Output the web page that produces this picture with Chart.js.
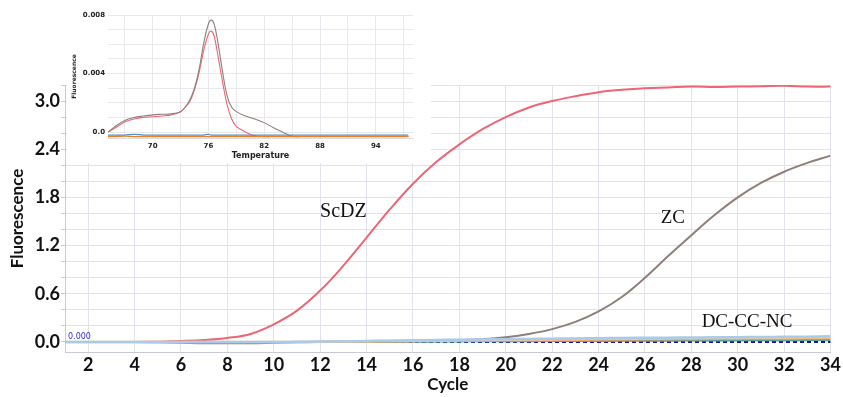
<!DOCTYPE html>
<html>
<head>
<meta charset="utf-8">
<script src="https://cdn.jsdelivr.net/npm/chart.js@4.4.0/dist/chart.umd.min.js"></script>
<style>
    body { margin: 0; background: #ffffff; }
    #wrap { position: relative; width: 843px; height: 397px; }
    #main { position: absolute; left: 0; top: 0; }
    #inset-box {
        position: absolute;
        left: 67px;
        top: 0px;
        width: 364px;
        height: 163px;
        background: #ffffff;
    }
</style>
</head>
<body>
<div id="wrap">
    <canvas id="main" width="843" height="397"></canvas>
    <div id="inset-box">
        <canvas id="inset" width="364" height="163"></canvas>
    </div>
</div>
<script>
// amplification plot (main)
const cycles = [1, 2, 3, 4, 5, 6, 7, 8, 9, 10, 11, 12, 13, 14, 15, 16, 17,
    18, 19, 20, 21, 22, 23, 24, 25, 26, 27, 28, 29, 30, 31, 32, 33, 34];
const scdz = [0, 0, 0, 0, 0.004, 0.012, 0.025, 0.05, 0.1, 0.22, 0.39, 0.64, 0.95, 1.3,
    1.65, 1.97, 2.24, 2.46, 2.65, 2.8, 2.92, 3.0, 3.06, 3.11, 3.14, 3.16, 3.17,
    3.18, 3.175, 3.18, 3.185, 3.19, 3.18, 3.18];
const zc = [0, 0, 0, 0, -0.005, -0.01, -0.015, -0.015, -0.015, -0.01, -0.005, 0, 0,
    0, 0.002, 0.005, 0.01, 0.02, 0.035, 0.06, 0.1, 0.16, 0.25, 0.38, 0.56, 0.8,
    1.07, 1.33, 1.58, 1.8, 1.98, 2.12, 2.23, 2.32];
const ncBlue = [0, 0, 0, 0, 0, 0, 0, 0, 0, 0, 0.002, 0.005, 0.008, 0.012, 0.016, 0.02,
    0.024, 0.028, 0.032, 0.035, 0.038, 0.041, 0.044, 0.047, 0.05, 0.052, 0.054,
    0.056, 0.058, 0.06, 0.062, 0.064, 0.066, 0.07];
const ncPeach = [0, 0, 0, 0, 0, 0, 0, 0, 0, 0, 0.001, 0.003, 0.006, 0.009, 0.012, 0.015,
    0.018, 0.021, 0.024, 0.027, 0.03, 0.032, 0.035, 0.037, 0.04, 0.042, 0.044,
    0.046, 0.048, 0.05, 0.052, 0.054, 0.055, 0.057];
const ncOrange = [0, 0, 0, 0, 0, 0, 0, 0, 0, 0, 0, 0.002, 0.004, 0.006, 0.008, 0.01,
    0.012, 0.014, 0.016, 0.018, 0.02, 0.022, 0.024, 0.026, 0.028, 0.03, 0.032,
    0.034, 0.036, 0.038, 0.04, 0.041, 0.043, 0.045];
const ncTeal = [0, 0, 0, 0, 0, 0, 0, 0, 0, 0, 0, 0, 0.002, 0.003, 0.004, 0.005,
    0.006, 0.007, 0.008, 0.009, 0.01, 0.011, 0.012, 0.013, 0.014, 0.015, 0.016,
    0.018, 0.019, 0.02, 0.021, 0.022, 0.023, 0.025];
const threshold = 0.0;
const xTickValues = [2, 4, 6, 8, 10, 12, 14, 16, 18, 20, 22, 24, 26, 28, 30, 32, 34];
const yGridValues = [0, 0.2, 0.4, 0.6, 0.8, 1.0, 1.2, 1.4, 1.6, 1.8, 2.0, 2.2, 2.4,
    2.6, 2.8, 3.0, 3.2];
const yLabelValues = [0, 0.6, 1.2, 1.8, 2.4, 3.0];

// curve names written on the plot
const curveNames = ["ScDZ", "ZC", "DC-CC-NC"];
const curveNameCycles = [13.0, 27.2, 30.4];
const curveNameValues = [1.62, 1.54, 0.25];

// melt curve (inset)
const temps = [65.2, 66, 67, 68, 69, 70, 71, 72, 73, 73.5, 74, 74.5, 75, 75.5, 76,
    76.3, 76.6, 77, 77.5, 78, 78.5, 79, 80, 81, 82, 83, 84, 85, 86, 88, 90, 92,
    94, 96, 97.5];
const meltZc = [0.0, 0.0004, 0.0008, 0.001, 0.0011, 0.00118, 0.00122, 0.00125,
    0.0014, 0.0017, 0.0022, 0.003, 0.0043, 0.0061, 0.0074, 0.00765, 0.0074,
    0.0062, 0.0042, 0.0025, 0.0017, 0.0014, 0.0011, 0.0009, 0.00065, 0.0003,
    0.0, -0.00028, -0.0003, -0.0003, -0.0003, -0.0003, -0.0003, -0.0003, -0.0003];
const meltScdz = [0.0, 0.0003, 0.0007, 0.0009, 0.001, 0.00105, 0.0011, 0.00118,
    0.0014, 0.0017, 0.0021, 0.0029, 0.0041, 0.0056, 0.0067, 0.0069, 0.0066,
    0.0053, 0.0035, 0.0019, 0.0009, 0.0004, 0.0, -0.00025, -0.0003, -0.0003,
    -0.0003, -0.0003, -0.0003, -0.0003, -0.0003, -0.0003, -0.0003, -0.0003, -0.0003];
const meltBlue = [-0.0002, -0.0002, -0.0002, -0.00015, -0.0002, -0.0002, -0.0002,
    -0.0002, -0.0002, -0.0002, -0.0002, -0.0002, -0.0002, -0.0002, -0.00015,
    -0.0002, -0.0002, -0.0002, -0.0002, -0.0002, -0.0002, -0.0002, -0.0002,
    -0.0002, -0.0002, -0.0002, -0.0002, -0.0002, -0.0002, -0.0002, -0.0002,
    -0.0002, -0.0002, -0.0002, -0.0002];
const meltOrange = [-0.0003, -0.0003, -0.00028, -0.0003, -0.0003, -0.0003, -0.0003,
    -0.0003, -0.0003, -0.0003, -0.0003, -0.0003, -0.0003, -0.0003, -0.0003,
    -0.0003, -0.0003, -0.0003, -0.0003, -0.0003, -0.0003, -0.0003, -0.0003,
    -0.0003, -0.0003, -0.0003, -0.0003, -0.0003, -0.0003, -0.0003, -0.0003,
    -0.0003, -0.0003, -0.0003, -0.0003];
const insetXTickValues = [67, 70, 73, 76, 79, 82, 85, 88, 91, 94, 97];
const insetXLabelValues = [70, 76, 82, 88, 94];
const insetYGridValues = [0, 0.001, 0.002, 0.003, 0.004, 0.005, 0.006, 0.007, 0.008];
const insetYLabels = { 0: "0.0", 0.004: "0.004", 0.008: "0.008" };

const RED = "#ec6675";
const GREY = "#8f7f78";
const GRID = "#e2e2ea";
const AXIS = "#c9c9d2";

function pairs(xs, ys) {
    return xs.map((x, i) => ({ x: x, y: ys[i] }));
}

function line(label, xs, ys, color, width, extra) {
    return Object.assign({
        label: label,
        data: pairs(xs, ys),
        borderColor: color,
        backgroundColor: color,
        borderWidth: width,
        pointRadius: 0,
        tension: 0.4,
        fill: false,
    }, extra || {});
}

// writes the curve names and the threshold value
const textPlugin = {
    id: "curveText",
    afterDatasetsDraw: (chart) => {
        const { ctx, scales: { x, y } } = chart;
        ctx.save();
        ctx.fillStyle = "#111111";
        ctx.textAlign = "center";
        ctx.textBaseline = "middle";
        curveNames.forEach((name, i) => {
            ctx.font = (name == "ScDZ" ? "20px" : "19px") + " 'Liberation Serif'";
            ctx.fillText(name, x.getPixelForValue(curveNameCycles[i]),
                y.getPixelForValue(curveNameValues[i]));
        });
        // threshold value, underlined by the dashed line itself
        ctx.font = "8px 'DejaVu Sans'";
        ctx.fillStyle = "#3030c8";
        ctx.textAlign = "left";
        ctx.textBaseline = "bottom";
        ctx.fillText(threshold.toFixed(3), chart.chartArea.left + 3,
            y.getPixelForValue(threshold) - 1);
        ctx.restore();
    }
};

new Chart(document.getElementById("main"), {
    type: "line",
    data: {
        datasets: [
            line("NC1", cycles, ncBlue, "#a9cbe9", 2.5),
            line("NC2", cycles, ncPeach, "#f7c596", 2.5),
            line("NC3", cycles, ncOrange, "#f0a04e", 2),
            line("NC4", cycles, ncTeal, "#5aa596", 2),
            line("ZC", cycles, zc, GREY, 2),
            line("ScDZ", cycles, scdz, RED, 2),
            line("Threshold", cycles, cycles.map(() => threshold), "#14149a", 2,
                { borderDash: [4, 3], tension: 0 }),
        ]
    },
    options: {
        responsive: false,
        animation: false,
        layout: { padding: { top: 85, right: 10, left: 0, bottom: 0 } },
        plugins: { legend: { display: false }, tooltip: { enabled: false } },
        scales: {
            x: {
                type: "linear",
                min: 1,
                max: 34,
                afterBuildTicks: (scale) => {
                    scale.ticks = xTickValues.map((v) => ({ value: v }));
                },
                afterFit: (scale) => { scale.height = 45; },
                grid: { color: GRID, drawTicks: false },
                border: { color: AXIS },
                ticks: {
                    color: "#111111",
                    padding: 2,
                    maxRotation: 0,
                    autoSkip: false,
                    font: { family: "Lato", size: 18, weight: "bold" },
                },
                title: {
                    display: true,
                    text: "Cycle",
                    color: "#111111",
                    padding: { top: 0, bottom: 2 },
                    font: { family: "Lato", size: 17, weight: "bold" },
                },
            },
            y: {
                min: -0.125,
                max: 3.2,
                afterBuildTicks: (scale) => {
                    scale.ticks = yGridValues.map((v) => ({ value: v }));
                },
                afterFit: (scale) => { scale.width = 65; },
                grid: { color: GRID, tickLength: 4, tickColor: AXIS },
                border: { color: AXIS },
                ticks: {
                    color: "#111111",
                    padding: 1,
                    autoSkip: false,
                    font: { family: "Lato", size: 18, weight: "bold" },
                    callback: (v) => {
                        const hit = yLabelValues.find((l) => Math.abs(l - v) < 1e-6);
                        return hit === undefined ? "" : hit.toFixed(1);
                    },
                },
                title: {
                    display: true,
                    text: "Fluorescence",
                    color: "#111111",
                    padding: { top: 7, bottom: 0 },
                    font: { family: "Lato", size: 17, weight: "bold" },
                },
            },
        },
    },
    plugins: [textPlugin],
});

new Chart(document.getElementById("inset"), {
    type: "line",
    data: {
        datasets: [
            line("blue", temps, meltBlue, "#4f8fc8", 1.2),
            line("orange", temps, meltOrange, "#e8812e", 1.2),
            line("ZC", temps, meltZc, GREY, 1.1),
            line("ScDZ", temps, meltScdz, RED, 1.1),
        ]
    },
    options: {
        responsive: false,
        animation: false,
        layout: { padding: { top: 15, right: 18, left: 0, bottom: 0 } },
        plugins: { legend: { display: false }, tooltip: { enabled: false } },
        scales: {
            x: {
                type: "linear",
                min: 65.2,
                max: 98,
                afterBuildTicks: (scale) => {
                    scale.ticks = insetXTickValues.map((v) => ({ value: v }));
                },
                afterFit: (scale) => { scale.height = 25; },
                grid: { color: "#e8e8ee", drawTicks: false },
                border: { color: "#dcdce2" },
                ticks: {
                    color: "#222222",
                    padding: 4,
                    maxRotation: 0,
                    autoSkip: false,
                    font: { family: "DejaVu Sans", size: 7, weight: "bold" },
                    callback: (v) => insetXLabelValues.includes(v) ? String(v) : "",
                },
                title: {
                    display: true,
                    text: "Temperature",
                    color: "#222222",
                    padding: { top: 0, bottom: 2 },
                    font: { family: "DejaVu Sans", size: 8, weight: "bold" },
                },
            },
            y: {
                min: -0.0004,
                max: 0.008,
                afterBuildTicks: (scale) => {
                    scale.ticks = insetYGridValues.map((v) => ({ value: v }));
                },
                afterFit: (scale) => { scale.width = 41; },
                grid: { color: "#e8e8ee", drawTicks: false },
                border: { display: false },
                ticks: {
                    color: "#222222",
                    padding: 3,
                    autoSkip: false,
                    font: { family: "DejaVu Sans", size: 7, weight: "bold" },
                    callback: (v) => {
                        const key = Object.keys(insetYLabels).find((k) => Math.abs(k - v) < 1e-9);
                        return key === undefined ? "" : insetYLabels[key];
                    },
                },
                title: {
                    display: true,
                    text: "Fluorescence",
                    color: "#222222",
                    padding: { top: 4, bottom: 0 },
                    font: { family: "DejaVu Sans", size: 6, weight: "bold" },
                },
            },
        },
    },
});
</script>
</body>
</html>
